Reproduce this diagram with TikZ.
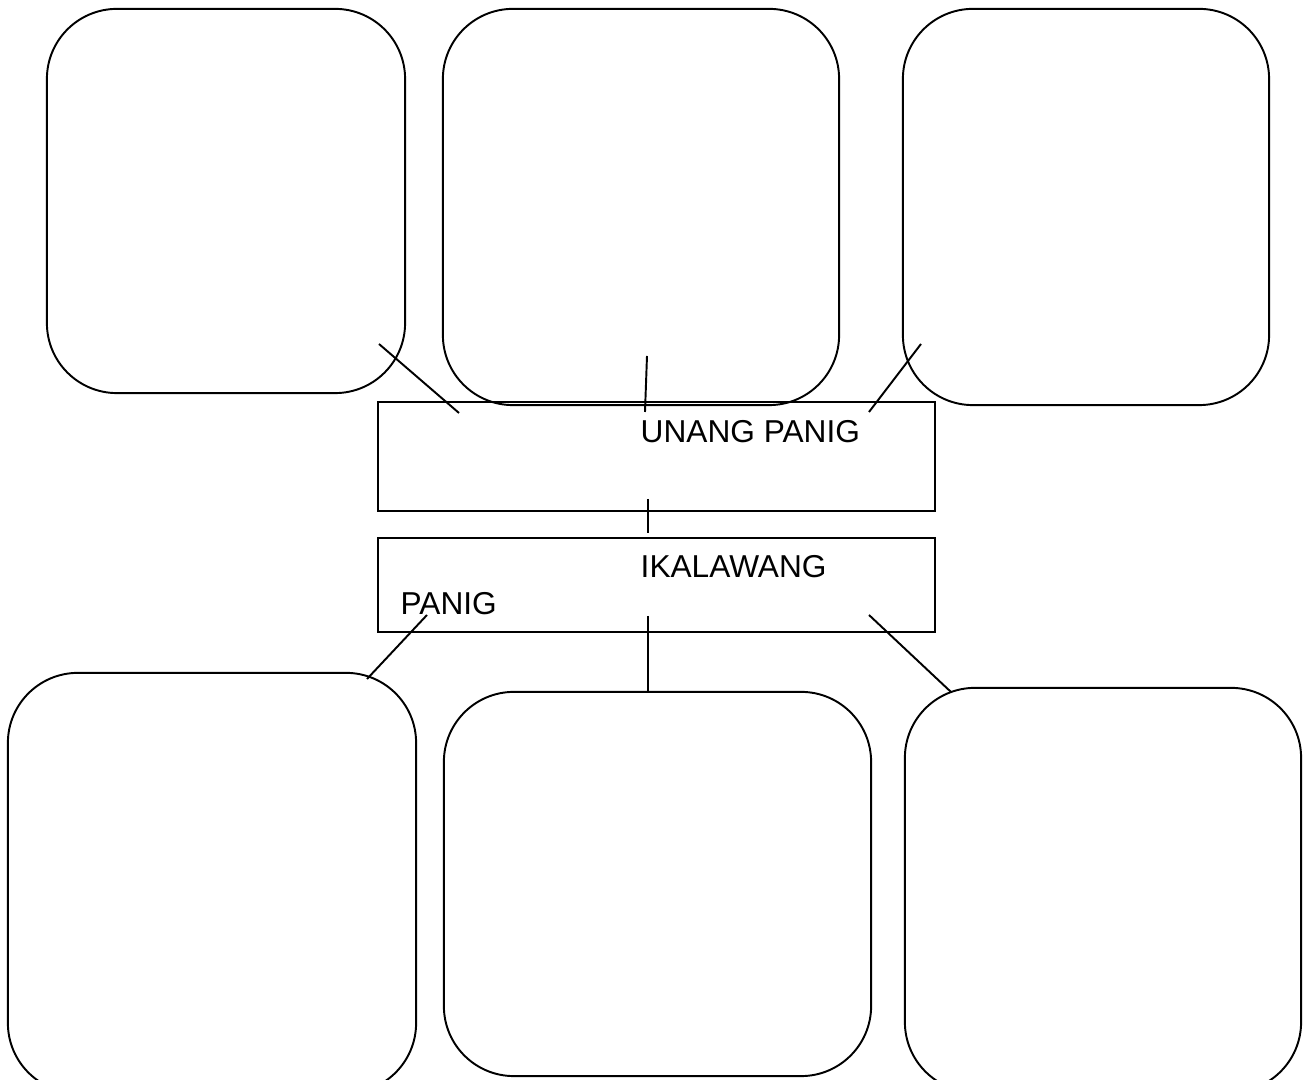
\documentclass[tikz,border=0pt]{standalone}
\usepackage{fontspec}
\setmainfont{Liberation Sans}
\usepackage{tikz}

\tikzset{
    panel/.style={draw, line width=0.55pt, rounded corners=0.7cm, inner sep=0pt},
    bar/.style={draw, line width=0.6pt, inner sep=0pt},
    label/.style={anchor=base west, inner sep=0pt, font=\fontsize{9pt}{11pt}\selectfont},
    link/.style={line width=0.55pt}
}

\begin{document}
\begin{tikzpicture}[x=0.01cm, y=-0.01cm]
    \useasboundingbox (0,0) rectangle (1305,1080);
    \clip (0,0) rectangle (1305,1080);
    % upper panels
    \node[panel, minimum width=3.58cm, minimum height=3.84cm] (topleft) at (226,201) {};
    \node[panel, minimum width=3.96cm, minimum height=3.96cm] (topmid) at (641,207) {};
    \node[panel, minimum width=3.66cm, minimum height=3.96cm] (topright) at (1086,207) {};
    % middle bars
    \node[bar, minimum width=5.57cm, minimum height=1.09cm] (first) at (656.5,456.5) {};
    \node[bar, minimum width=5.57cm, minimum height=0.94cm] (second) at (656.5,585) {};
    \node[label] (firsttext) at (640,443) {UNANG PANIG};
    \node[label] (secondtext) at (640,578) {IKALAWANG};
    \node[label] (secondtail) at (400,615) {PANIG};
    % lower panels
    \node[panel, minimum width=4.08cm, minimum height=4.20cm] (botleft) at (212,883) {};
    \node[panel, minimum width=4.27cm, minimum height=3.84cm] (botmid) at (657.5,884) {};
    \node[panel, minimum width=3.96cm, minimum height=4.04cm] (botright) at (1103,890) {};
    % connector ends
    \coordinate (a1) at (379,344);  \coordinate (a2) at (459,413);
    \coordinate (b1) at (647,356);  \coordinate (b2) at (645,412);
    \coordinate (c1) at (921,344);  \coordinate (c2) at (869,412);
    \coordinate (d1) at (648,499);  \coordinate (d2) at (648,533);
    \coordinate (e1) at (427,615);  \coordinate (e2) at (367,679);
    \coordinate (f1) at (648,616);  \coordinate (f2) at (648,692);
    \coordinate (g1) at (869,615);  \coordinate (g2) at (951,692);
    \foreach \s in {a,b,c,d,e,f,g}
        \draw[link] (\s1) -- (\s2);
\end{tikzpicture}
\end{document}
